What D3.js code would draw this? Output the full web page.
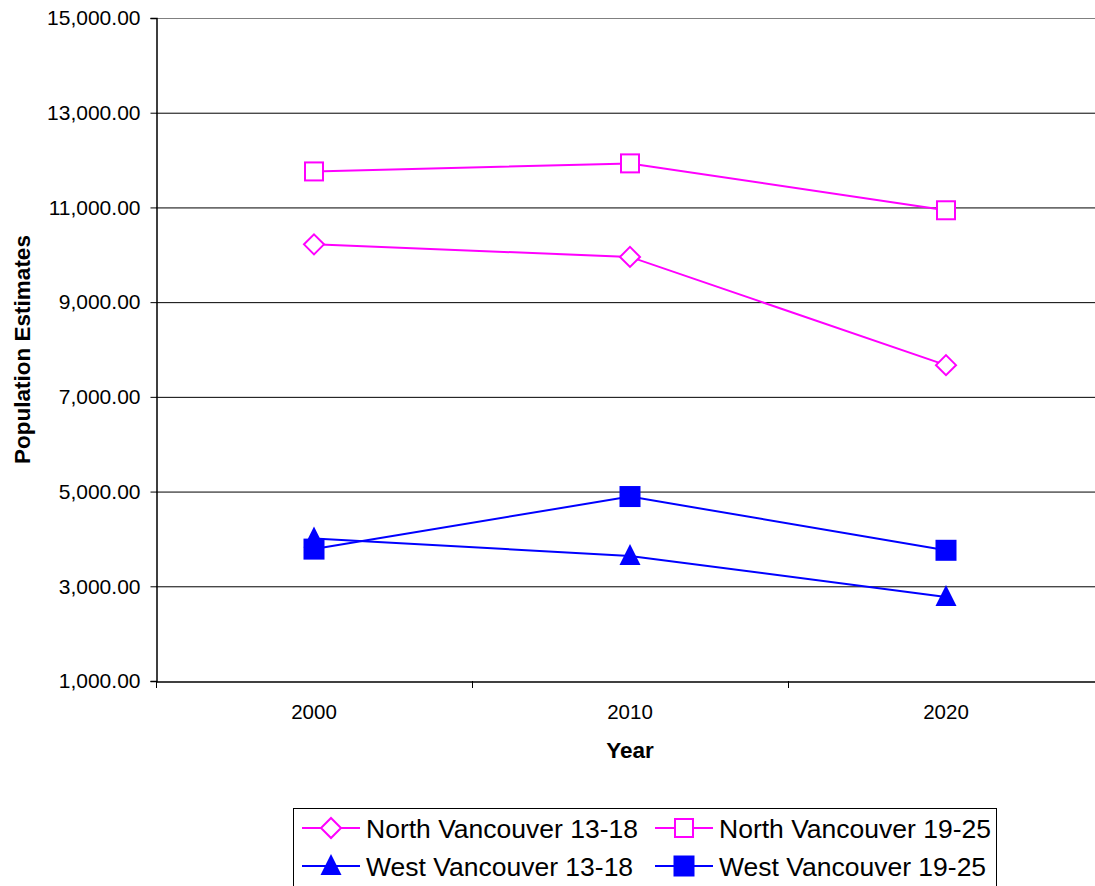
<!DOCTYPE html>
<html><head><meta charset="utf-8">
<script src="https://cdn.jsdelivr.net/npm/d3@7"></script>
<style>body{margin:0;background:#fff}svg{display:block;font-family:"Liberation Sans",Arial,sans-serif}</style>
</head><body><svg id="c" width="1095" height="886"></svg>
<script>
const years = ["2000","2010","2020"];
const yTicks = [1000,3000,5000,7000,9000,11000,13000,15000];
const nv1318 = [10220, 9955, 7670];
const nv1925 = [11760, 11930, 10940];
const wv1318 = [4010, 3640, 2775];
const wv1925 = [3785, 4895, 3760];
const seriesNames = ["North Vancouver 13-18","North Vancouver 19-25","West Vancouver 13-18","West Vancouver 19-25"];

const series = [
  {name:seriesNames[0], values:nv1318, color:"#FF00FF", marker:"diamond"},
  {name:seriesNames[1], values:nv1925, color:"#FF00FF", marker:"osquare"},
  {name:seriesNames[2], values:wv1318, color:"#0000FF", marker:"triangle"},
  {name:seriesNames[3], values:wv1925, color:"#0000FF", marker:"square"}
];

const svg = d3.select("#c");
const L=156, R=1104, T=18, B=681;
const x = d3.scaleBand().domain(years).range([L,R]);
const y = d3.scaleLinear().domain([1000,15000]).range([B,T]);

// gridlines
svg.append("g").selectAll("line").data(yTicks.filter(d=>d>1000)).join("line")
  .attr("x1",L).attr("x2",R).attr("y1",d=>y(d)+0.5).attr("y2",d=>y(d)+0.5)
  .attr("stroke",d=>d===15000?"#808080":"#000").attr("stroke-width",1);

// y axis
const ya = svg.append("g").attr("transform",`translate(${L+0.5},0)`)
  .call(d3.axisLeft(y).tickValues(yTicks).tickSize(6).tickPadding(10).tickFormat(d3.format(",.2f")));
ya.select(".domain").attr("stroke","#000").attr("stroke-width",1.5);
ya.selectAll("text").attr("font-size",21).attr("fill","#000").attr("font-family","Liberation Sans, Arial, sans-serif");
ya.selectAll(".tick line").attr("stroke","#000");

// x axis
const xa = svg.append("g").attr("transform",`translate(0,${B+0.5})`)
  .call(d3.axisBottom(x).tickSize(0).tickPadding(23));
xa.select(".domain").attr("stroke","#000").attr("stroke-width",1.5);
xa.selectAll("text").attr("font-size",20.5).attr("fill","#000").attr("font-family","Liberation Sans, Arial, sans-serif");
svg.append("g").selectAll("line").data(years).join("line")
  .attr("x1",d=>Math.round(x(d))+0.5).attr("x2",d=>Math.round(x(d))+0.5)
  .attr("y1",B).attr("y2",B+7).attr("stroke","#000");

// titles
svg.append("text").attr("x",630).attr("y",758).attr("text-anchor","middle")
  .attr("font-size",22.5).attr("font-weight","bold").text("Year");
svg.append("text").attr("transform",`translate(30,${(T+B)/2}) rotate(-90)`).attr("text-anchor","middle")
  .attr("font-size",22.5).attr("font-weight","bold").text("Population Estimates");

function drawMarker(g, type, color){
  if(type==="diamond"){
    g.append("path").attr("d","M0,-10L10,0L0,10L-10,0Z").attr("fill","#fff").attr("stroke",color).attr("stroke-width",2);
  } else if(type==="osquare"){
    g.append("rect").attr("x",-9).attr("y",-9).attr("width",18).attr("height",18).attr("fill","#fff").attr("stroke",color).attr("stroke-width",2);
  } else if(type==="triangle"){
    g.append("path").attr("d","M0,-12L10.5,9L-10.5,9Z").attr("fill",color);
  } else {
    g.append("rect").attr("x",-10.5).attr("y",-10.5).attr("width",21).attr("height",21).attr("fill",color);
  }
}

const cx = d=>x(d)+x.bandwidth()/2;
const line = d3.line().x((v,i)=>cx(years[i])).y(v=>y(v));
series.forEach(s=>{
  svg.append("path").datum(s.values).attr("d",line).attr("fill","none").attr("stroke",s.color).attr("stroke-width",2);
});
series.forEach(s=>{
  s.values.forEach((v,i)=>{
    const g = svg.append("g").attr("transform",`translate(${cx(years[i])},${y(v)})`);
    drawMarker(g,s.marker,s.color);
  });
});

// legend
const lg = svg.append("g");
lg.append("rect").attr("x",293.5).attr("y",808.5).attr("width",703).attr("height",90).attr("fill","#fff").attr("stroke","#000").attr("stroke-width",1);
const pos = [[302,828],[655,828],[302,866],[655,866]];
series.forEach((s,i)=>{
  const [px,py]=pos[i];
  lg.append("line").attr("x1",px).attr("x2",px+58).attr("y1",py).attr("y2",py).attr("stroke",s.color).attr("stroke-width",2);
  const g = lg.append("g").attr("transform",`translate(${px+29},${py})`);
  drawMarker(g,s.marker,s.color);
  lg.append("text").attr("x",px+64).attr("y",py+9.5).attr("font-size",26.5).attr("fill","#000").text(s.name);
});
</script></body></html>
